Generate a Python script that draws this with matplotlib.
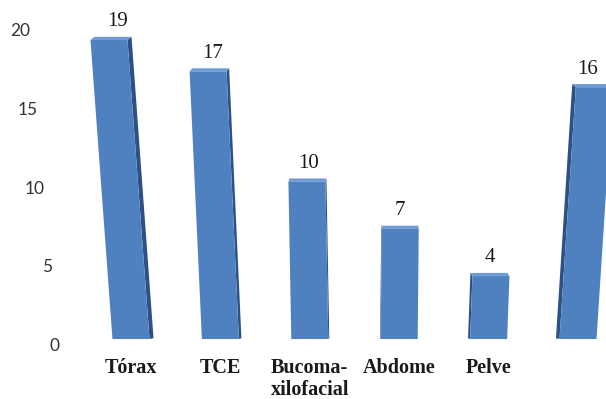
import matplotlib
matplotlib.use("Agg")
import matplotlib.pyplot as plt
import numpy as np

categories = ["Tórax", "TCE", "Bucoma-\nxilofacial", "Abdome", "Pelve", ""]
counts = [19, 17, 10, 7, 4, 16]
yticks = [0, 5, 10, 15, 20]

# perspective settings for the pseudo-3D columns
vanish_x = 2.66      # columns lean away from this x position
lean = 0.00487       # horizontal shift per (x distance * value)
bar_w = 0.414
side_k = 0.017       # side face width per unit distance from vanish_x
top_depth = 0.2

front_col = "#4f81c0"
side_col = "#2d5184"
top_col = "#6e9bd3"


def shift(x, v):
    return lean * (x - vanish_x) * v


fig = plt.figure(figsize=(6.06, 3.99), dpi=100)
ax = fig.add_axes([0, 0, 1, 1])
ax.set_xlim(-1.465, 5.313)
ax.set_ylim(-3.81, 21.54)
ax.axis("off")

for i, v in enumerate(counts):
    x0 = i - bar_w / 2
    x1 = i + bar_w / 2
    s = shift(i, v)
    # front face
    ax.fill([x0, x1, x1 + s, x0 + s], [0, 0, v, v], color=front_col, lw=0, zorder=3)
    # side face on the side facing the vanishing point
    sw = side_k * (vanish_x - i)
    edge = x1 if sw > 0 else x0
    ax.fill([edge, edge + sw, edge + sw + s, edge + s],
            [0, 0.05, v + top_depth, v], color=side_col, lw=0, zorder=2)
    # top face
    ax.fill([x0 + s, x1 + s, x1 + s + sw, x0 + s + sw],
            [v, v, v + top_depth, v + top_depth], color=top_col, lw=0, zorder=2)
    # value label
    ax.text(i + 0.6 * s, v + 1.15, str(v), ha="center", va="center",
            family="Liberation Serif", fontsize=15, color="#1a1a1a")

# category labels
for i, c in enumerate(categories):
    ax.text(i, -1.22, c, ha="center", va="top", family="Liberation Serif",
            fontweight="bold", fontsize=14.5, color="#1a1a1a", linespacing=1.1)

# y tick labels follow the leaning axis
ax_x = -0.794
for t in yticks:
    ax.text(ax_x + shift(ax_x, t), t - 0.45, str(t), ha="right", va="center",
            family="Lato", fontsize=12.5, color="#333333")

fig.savefig("out.png", dpi=100)
